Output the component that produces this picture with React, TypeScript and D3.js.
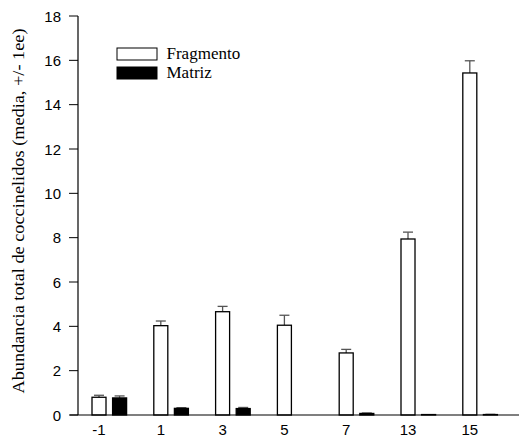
import * as d3 from 'd3';

const categories = ['-1', '1', '3', '5', '7', '13', '15'];
const seriesNames = ['Fragmento', 'Matriz'];
const fragmento = [0.8, 4.03, 4.66, 4.05, 2.8, 7.94, 15.43];
const fragmentoErr = [0.09, 0.21, 0.24, 0.45, 0.16, 0.31, 0.55];
const matriz = [0.77, 0.3, 0.29, 0, 0.07, 0.02, 0.02];
const matrizErr = [0.09, 0.03, 0.05, 0, 0.02, 0, 0.01];
const yTicks = [0, 2, 4, 6, 8, 10, 12, 14, 16, 18];

const FILLS = ['#ffffff', '#000000'];
const SANS = 'Liberation Sans, Arial, sans-serif';
const SERIF = 'Liberation Serif, Times New Roman, serif';

export default function App() {
  const width = 524;
  const height = 437;
  const left = 78;
  const bottom = 415;

  const y = d3.scaleLinear().domain([0, 18]).range([bottom, 16]);
  const x0 = d3.scaleBand().domain(categories).range([left, left + 7 * 61.8]).paddingInner(0).paddingOuter(0);
  const x1 = d3.scaleBand().domain(seriesNames).range([14, 48.6]).paddingInner(0.32).paddingOuter(0);
  const bw = x1.bandwidth();

  const series = [
    { name: 'Fragmento', values: fragmento, errs: fragmentoErr },
    { name: 'Matriz', values: matriz, errs: matrizErr },
  ];

  return (
    <svg width={width} height={height} style={{ position: 'absolute', left: 0, top: 0 }}>
      <rect width={width} height={height} fill="#fff" />

      {/* y axis */}
      <line x1={left} x2={left} y1={y(18)} y2={bottom} stroke="#000" strokeWidth={1.2} />
      {yTicks.map((t) => (
        <g key={t}>
          <line x1={left - 9} x2={left} y1={y(t)} y2={y(t)} stroke="#000" strokeWidth={1} />
          <text x={61} y={y(t) + 5.5} textAnchor="end" fontSize="15" fontFamily={SANS} fill="#000">
            {t}
          </text>
        </g>
      ))}
      <text
        transform={`translate(24,211) rotate(-90)`}
        textAnchor="middle"
        fontSize="17"
        fontFamily={SERIF}
        textLength={365}
        lengthAdjust="spacingAndGlyphs"
        fill="#000"
      >
        Abundancia total de coccinelidos (media, +/- 1ee)
      </text>

      {/* bars */}
      {series.map((s, si) =>
        categories.map((c, i) => {
          const bx = (x0(c) ?? 0) + (x1(s.name) ?? 0);
          const v = s.values[i];
          const e = s.errs[i];
          const cx = bx + bw / 2;
          return (
            <g key={`${s.name}-${c}`}>
              {e > 0 && (
                <g stroke="#555" strokeWidth={1.3}>
                  <line x1={cx} x2={cx} y1={y(v)} y2={y(v + e)} />
                  <line x1={cx - 5} x2={cx + 5} y1={y(v + e)} y2={y(v + e)} />
                </g>
              )}
              {v > 0 && (
                <rect x={bx} y={y(v)} width={bw} height={bottom - y(v)} fill={FILLS[si]} stroke="#000" strokeWidth={1.3} />
              )}
            </g>
          );
        })
      )}

      {/* x axis */}
      <line x1={70} x2={519} y1={bottom} y2={bottom} stroke="#000" strokeWidth={1.2} />
      {categories.map((c) => (
        <text
          key={c}
          x={(x0(c) ?? 0) + (x1('Fragmento') ?? 0) + bw / 2}
          y={bottom + 20}
          textAnchor="middle"
          fontSize="15"
          fontFamily={SANS}
          fill="#000"
        >
          {c}
        </text>
      ))}

      {/* legend */}
      {seriesNames.map((n, i) => (
        <g key={n} transform={`translate(117,${48 + i * 19})`}>
          <rect width={40} height={12} fill={FILLS[i]} stroke="#000" strokeWidth={1} />
          <text x={49.5} y={11.3} fontSize="17" fontFamily={SERIF} fill="#000">
            {n}
          </text>
        </g>
      ))}
    </svg>
  );
}
